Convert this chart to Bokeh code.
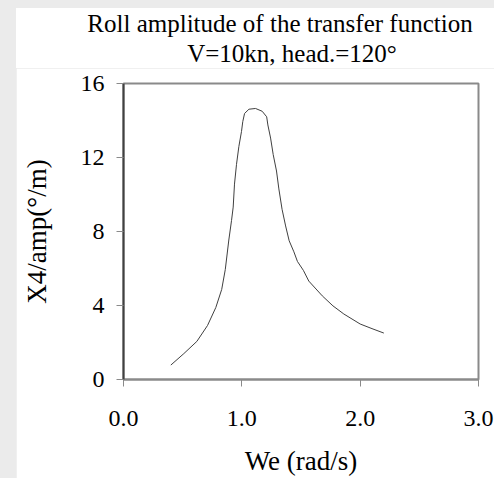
from bokeh.plotting import figure
from bokeh.layouts import column
from bokeh.models import Div, FixedTicker, NumeralTickFormatter, Range1d
from bokeh.embed import file_html
from bokeh.resources import INLINE

# Data
we = [0.40, 0.51, 0.62, 0.71, 0.78, 0.83, 0.86, 0.89, 0.913, 0.927, 0.938, 0.955, 0.975,
      0.997, 1.008, 1.023, 1.06, 1.116, 1.172, 1.21, 1.22, 1.243, 1.265, 1.293, 1.313,
      1.34, 1.37, 1.40, 1.44, 1.47, 1.52, 1.566, 1.68, 1.77, 1.862, 2.00, 2.10, 2.20]
x4 = [0.78, 1.40, 2.06, 2.92, 3.89, 4.87, 5.94, 7.54, 8.60, 9.32, 10.56, 11.63, 12.6,
      13.4, 13.94, 14.38, 14.61, 14.65, 14.5, 14.2, 13.76, 13.05, 12.16, 11.27, 10.3,
      9.2, 8.3, 7.5, 6.9, 6.38, 5.9, 5.32, 4.52, 3.98, 3.54, 3.0, 2.75, 2.51]
x_ticks = [0, 1, 2, 3]
y_ticks = [0, 4, 8, 12, 16]
title_lines = ["Roll amplitude of the transfer function", "V=10kn, head.=120°"]

FONT = "Liberation Serif"

title_html = (
    '<div style="position:relative;width:478px;height:60px;'
    "font-family:'Liberation Serif',serif;font-size:25px;line-height:25px;color:#000000;\">"
    '<div style="position:absolute;left:54px;top:3px;width:420px;text-align:center;'
    f'white-space:nowrap;">{title_lines[0]}</div>'
    '<div style="position:absolute;left:76px;top:33px;width:400px;text-align:center;'
    f'white-space:nowrap;">{title_lines[1]}</div>'
    '</div>'
)
head = Div(text=title_html, width=478, height=60, margin=(8, 0, 0, 16),
           styles={"background-color": "white"})

p = figure(width=478, height=410, output_backend="svg", toolbar_location=None,
           x_range=Range1d(0, 3), y_range=Range1d(0, 16),
           min_border_left=107, min_border_right=16, min_border_top=15, min_border_bottom=95,
           margin=(0, 0, 0, 16))

p.line(we, x4, line_color="#404040", line_width=1)

p.xgrid.visible = False
p.ygrid.visible = False
p.outline_line_color = "#8a8a8a"
p.outline_line_width = 2
p.background_fill_color = "white"
p.border_fill_color = "white"

xa = p.xaxis[0]
xa.ticker = FixedTicker(ticks=x_ticks)
xa.formatter = NumeralTickFormatter(format="0.0")
xa.axis_label = "We (rad/s)"
ya = p.yaxis[0]
ya.ticker = FixedTicker(ticks=y_ticks)
ya.axis_label = "X4/amp(°/m)"

for ax in (xa, ya):
    ax.minor_tick_line_color = None
    ax.major_tick_in = 0
    ax.major_tick_out = 7
    ax.major_tick_line_color = "#8a8a8a"
    ax.major_tick_line_width = 1
    ax.major_label_text_font = FONT
    ax.major_label_text_font_size = "24px"
    ax.major_label_text_color = "#000000"
    ax.axis_label_text_font = FONT
    ax.axis_label_text_font_size = "27px"
    ax.axis_label_text_font_style = "normal"
    ax.axis_label_text_color = "#000000"

xa.axis_line_color = "#8a8a8a"
xa.axis_line_width = 2
ya.axis_line_color = "#404040"
ya.axis_line_width = 2
xa.major_label_standoff = 24
xa.axis_label_standoff = 17
ya.major_label_standoff = 12
ya.axis_label_standoff = 26

page = column(head, p, spacing=0, styles={"background-color": "#ebebeb"})

open("out.html", "w").write(file_html(page, INLINE))
